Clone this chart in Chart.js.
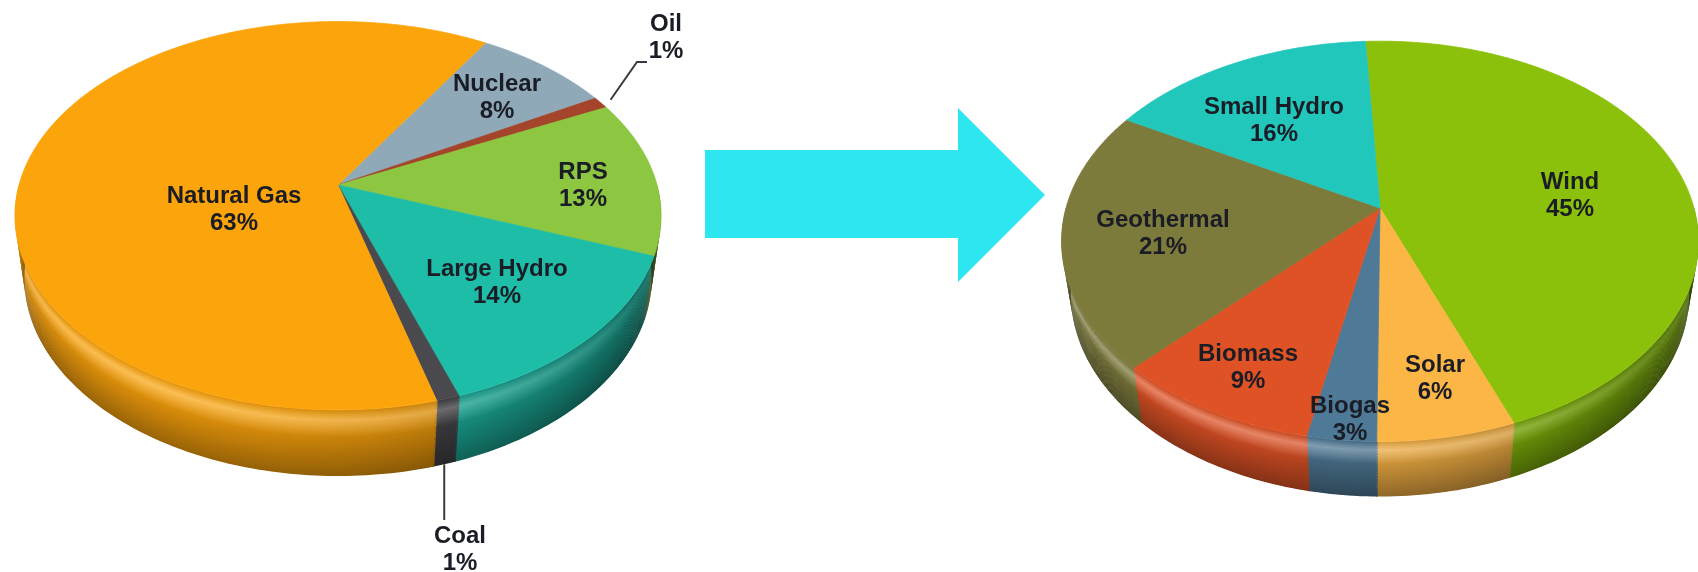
<!DOCTYPE html>
<html>
<head>
<meta charset="utf-8">
<script src="https://cdn.jsdelivr.net/npm/chart.js@4.4.1/dist/chart.umd.min.js"></script>
<style>
  html, body { margin: 0; padding: 0; background: #ffffff; overflow: hidden; width: 1698px; height: 572px; }
  #stage { position: relative; width: 1698px; height: 572px; overflow: hidden; }
  canvas { position: absolute; }
  #mix { left: 0px; top: -134px; width: 700px; height: 720px; }
  #renew { left: 1000px; top: -106px; width: 698px; height: 682px; }
  svg { position: absolute; left: 0; top: 0; }
</style>
</head>
<body>
<div id="stage">
  <svg width="1698" height="572" viewBox="0 0 1698 572">
    <polygon points="705,150 958,150 958,108 1045,195 958,282 958,238 705,238" fill="#2EE6EF"/>
  </svg>
  <canvas id="mix" width="700" height="720"></canvas>
  <canvas id="renew" width="698" height="682"></canvas>
</div>
<script>
// Current generation mix (left pie)
const mixLabels = ['Nuclear', 'Oil', 'RPS', 'Large Hydro', 'Coal', 'Natural Gas'];
const mixValues = [8, 1, 13, 14, 1, 63];
const mixColors = ['#8FA9B9', '#A4452B', '#8DC640', '#1EBDA8', '#4A4A4E', '#FCA40C'];

// Renewable portfolio breakdown (right pie)
const renewLabels = ['Wind', 'Solar', 'Biogas', 'Biomass', 'Geothermal', 'Small Hydro'];
const renewValues = [45, 6, 3, 9, 21, 16];
const renewColors = ['#8BC10B', '#FCB646', '#4F7A97', '#DF5225', '#7D7B3B', '#22C7BC'];

// Label anchors, relative to the pie centre (px)
const mixLabelAt = [[159, -87], [328, -147], [245, 1], [159, 98], [122, 365], [-104, 25]];
const renewLabelAt = [[190, -12], [55, 171], [-30, 212], [-132, 160], [-217, 26], [-106, -87]];

const DEG = Math.PI / 180;

function toRgb(hex) {
  const n = parseInt(hex.slice(1), 16);
  return [(n >> 16) & 255, (n >> 8) & 255, n & 255];
}
function css(c) {
  return 'rgb(' + c.map(v => Math.max(0, Math.min(255, Math.round(v)))).join(',') + ')';
}
function shade(c, k) { return c.map(v => v * k); }
function mix(c, d, t) { return c.map((v, i) => v + (d[i] - v) * t); }

// Perspective projection of a point on the pie: angle th, radius r (1 = rim), height y (0 = top face)
function makeProjector(el, o) {
  const c = Math.cos(o.tilt * DEG), s = Math.sin(o.tilt * DEG), D = o.distance;
  const R = el.outerRadius;
  return function (th, y, r) {
    r = (r === undefined) ? 1 : r;
    const X = r * Math.cos(th), Z = r * Math.sin(th);
    const d = D - (Z * c + y * s);
    const v = y * c - Z * s;
    const k = R * D / d;
    return [el.x + k * X, el.y - k * v];
  };
}

// vertical profile of the rim wall: k = 0 at the top edge, 1 at the bottom edge
function wallProfile(k) {
  const pts = [[0, 0.97, 0], [0.15, 1.08, 0.3], [0.4, 0.93, 0], [1, 0.66, 0]];
  for (let i = 0; i < pts.length - 1; i++) {
    const a = pts[i], b = pts[i + 1];
    if (k <= b[0]) {
      const t = (k - a[0]) / (b[0] - a[0]);
      return [a[1] + (b[1] - a[1]) * t, a[2] + (b[2] - a[2]) * t];
    }
  }
  return [0.66, 0];
}

function wallColor(base, th, k) {
  const L = 0.6 + 0.32 * Math.cos(th - 125 * DEG);
  const hl = Math.max(0, Math.cos(th - 115 * DEG));
  const [f, w] = wallProfile(k);
  return css(mix(shade(base, Math.min(1.05, L * f)), [255, 255, 255], w * hl));
}

const pie3d = {
  id: 'pie3d',
  beforeDatasetsDraw(chart, args, o) {
    const ctx = chart.ctx;
    const arcs = chart.getDatasetMeta(0).data;
    const colors = chart.data.datasets[0].backgroundColor;
    const proj = makeProjector(arcs[0], o);
    const depth = o.depth;
    const layers = 36;

    // front part of the rim wall, split into pieces within [0, PI]
    const pieces = [];
    arcs.forEach((el, i) => {
      const a0 = el.startAngle, a1 = el.endAngle;
      for (let m = Math.floor(a0 / Math.PI) - 1; m <= Math.ceil(a1 / Math.PI) + 1; m++) {
        const lo = Math.max(a0, m * Math.PI), hi = Math.min(a1, (m + 1) * Math.PI);
        if (hi - lo <= 1e-6) continue;
        if (Math.sin((lo + hi) / 2) <= 0) continue;
        pieces.push({ t0: lo - 0.15 * DEG, t1: hi + 0.15 * DEG, base: toRgb(colors[i]) });
      }
    });

    ctx.save();
    for (let L = 0; L < layers; L++) {
      const k0 = L / layers, k1 = (L + 1) / layers;
      const yTop = -depth * k0;
      const yBot = -depth * Math.min(1, k1 + (L < layers - 1 ? 0.6 / layers : 0));
      const km = (k0 + k1) / 2;
      pieces.forEach(pc => {
        const n = Math.max(2, Math.ceil((pc.t1 - pc.t0) / DEG));
        ctx.beginPath();
        for (let j = 0; j <= n; j++) {
          const p = proj(pc.t0 + (pc.t1 - pc.t0) * j / n, yTop);
          if (j === 0) ctx.moveTo(p[0], p[1]); else ctx.lineTo(p[0], p[1]);
        }
        for (let j = n; j >= 0; j--) {
          const p = proj(pc.t0 + (pc.t1 - pc.t0) * j / n, yBot);
          ctx.lineTo(p[0], p[1]);
        }
        ctx.closePath();
        const x0 = proj(pc.t0, -depth * km)[0], x1 = proj(pc.t1, -depth * km)[0];
        const g = ctx.createLinearGradient(x0, 0, x1, 0);
        const m = Math.max(2, Math.ceil((pc.t1 - pc.t0) / (3 * DEG)));
        for (let j = 0; j <= m; j++) {
          const t = pc.t0 + (pc.t1 - pc.t0) * j / m;
          const x = proj(t, -depth * km)[0];
          const off = Math.abs(x1 - x0) < 1e-6 ? j / m : (x - x0) / (x1 - x0);
          g.addColorStop(Math.max(0, Math.min(1, off)), wallColor(pc.base, t, km));
        }
        ctx.fillStyle = g;
        ctx.fill();
      });
    }

    // top face slices
    arcs.forEach((el, i) => {
      const a0 = el.startAngle, a1 = el.endAngle;
      const n = Math.max(2, Math.ceil((a1 - a0) / (0.5 * DEG)));
      ctx.beginPath();
      ctx.moveTo(el.x, el.y);
      for (let j = 0; j <= n; j++) {
        const p = proj(a0 + (a1 - a0) * j / n, 0);
        ctx.lineTo(p[0], p[1]);
      }
      ctx.closePath();
      ctx.fillStyle = colors[i];
      ctx.strokeStyle = colors[i];
      ctx.lineWidth = 0.8;
      ctx.fill();
      ctx.stroke();
    });
    ctx.restore();
    return false;
  },
  afterDraw(chart, args, o) {
    const ctx = chart.ctx;
    const arcs = chart.getDatasetMeta(0).data;
    const proj = makeProjector(arcs[0], o);
    const cx = arcs[0].x, cy = arcs[0].y;
    const values = chart.data.datasets[0].data;
    ctx.save();

    // leader lines for the thin slices
    ctx.strokeStyle = '#3a3a3e';
    ctx.lineWidth = 2;
    (o.leaders || []).forEach(ld => {
      const el = arcs[ld.index];
      const mid = (el.startAngle + el.endAngle) / 2;
      const p = proj(mid, ld.bottom ? -o.depth : 0, ld.radius || 1);
      ctx.beginPath();
      ctx.moveTo(p[0], p[1]);
      if (ld.drop !== undefined) {
        ctx.lineTo(p[0], cy + ld.drop);
      } else {
        ld.path.forEach(q => ctx.lineTo(cx + q[0], cy + q[1]));
      }
      ctx.stroke();
    });

    ctx.font = 'bold 24px "Liberation Sans", Arial, sans-serif';
    ctx.fillStyle = '#1a1c26';
    ctx.textAlign = 'center';
    ctx.textBaseline = 'middle';
    chart.data.labels.forEach((lab, i) => {
      const at = o.labelAt[i];
      ctx.fillText(lab, cx + at[0], cy + at[1] - 13.5);
      ctx.fillText(values[i] + '%', cx + at[0], cy + at[1] + 13.5);
    });
    ctx.restore();
  }
};

function pieConfig(labels, values, colors, rotation, padding, pieOpts) {
  return {
    type: 'pie',
    data: {
      labels: labels,
      datasets: [{ data: values, backgroundColor: colors, borderWidth: 0, rotation: rotation }]
    },
    options: {
      responsive: false,
      animation: false,
      events: [],
      rotation: rotation,
      layout: { padding: padding },
      plugins: {
        legend: { display: false },
        tooltip: { enabled: false },
        pie3d: pieOpts
      }
    },
    plugins: [pie3d]
  };
}

new Chart(document.getElementById('mix'), pieConfig(
  mixLabels, mixValues, mixColors, 31.6,
  { left: 19, right: 43, top: 0, bottom: 82 },
  {
    tilt: 36.4, distance: 5.09, depth: 0.25, labelAt: mixLabelAt,
    leaders: [
      { index: 1, radius: 1.04, path: [[299, -123], [309, -123]] },
      { index: 4, bottom: true, drop: 335 }
    ]
  }
));

new Chart(document.getElementById('renew'), pieConfig(
  renewLabels, renewValues, renewColors, -3.1,
  { left: 66, right: 4, top: 0, bottom: 54 },
  { tilt: 38.3, distance: 4.71, depth: 0.22, labelAt: renewLabelAt }
));
</script>
</body>
</html>
